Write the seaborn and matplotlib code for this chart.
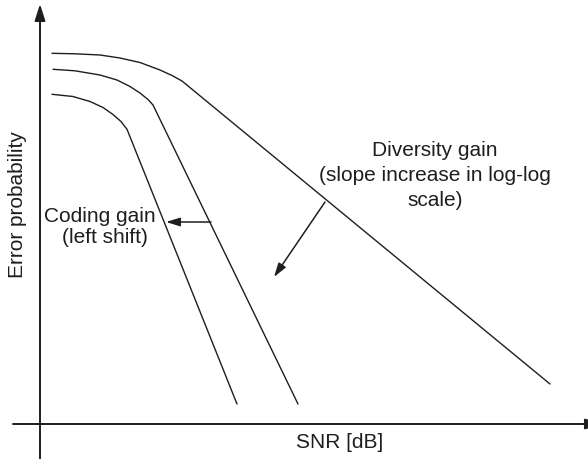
import pandas as pd
import matplotlib
matplotlib.use("Agg")
import matplotlib.pyplot as plt
import seaborn as sns

# === schematic curves (SNR units vs error-probability units) ===
snr_c1 = [1.2, 3.5, 6.0, 8.0, 10.0, 12.0, 13.2, 14.2, 51.0]
err_c1 = [37.07, 37.02, 36.9, 36.6, 36.15, 35.4, 34.85, 34.3, 4.0]

snr_c2 = [1.3, 3.5, 6.0, 7.7, 9.0, 10.0, 10.8, 11.3, 25.8]
err_c2 = [35.47, 35.32, 34.9, 34.4, 33.75, 33.1, 32.45, 31.9, 2.0]

snr_c3 = [1.2, 3.3, 5.0, 6.3, 7.3, 8.1, 8.7, 19.7]
err_c3 = [32.97, 32.75, 32.25, 31.65, 30.95, 30.25, 29.47, 2.0]

# arrows: (start, end)
coding_arrow = [(17.1, 20.2), (12.6, 20.2)]
diversity_arrow = [(28.5, 22.2), (23.4, 14.7)]

coding_lines = ["Coding gain", "(left shift)"]
diversity_lines = ["Diversity gain", "(slope increase in log-log", "scale)"]

# === build table ===
df = pd.concat([
    pd.DataFrame({"snr": snr_c1, "err": err_c1, "curve": "c1"}),
    pd.DataFrame({"snr": snr_c2, "err": err_c2, "curve": "c2"}),
    pd.DataFrame({"snr": snr_c3, "err": err_c3, "curve": "c3"}),
], ignore_index=True)

sns.set_theme(style="white")
plt.rcParams["font.family"] = ["Liberation Sans", "DejaVu Sans"]

ink = "#1e1e1e"

fig = plt.figure(figsize=(5.88, 4.59), dpi=100)
ax = fig.add_axes([0, 0, 1, 1])

sns.lineplot(data=df, x="snr", y="err", units="curve", estimator=None,
             sort=False, color=ink, linewidth=1.0, ax=ax, legend=False)

ax.set_xlim(-4.0, 54.8)
ax.set_ylim(-3.5, 42.4)
ax.axis("off")

# === axes with arrows ===
axis_arrow = dict(arrowstyle="-|>,head_length=0.5,head_width=0.16",
                  mutation_scale=20, color=ink, lw=1.4, shrinkA=0, shrinkB=0)
ax.annotate("", xy=(56.2, 0), xytext=(-2.7, 0), arrowprops=axis_arrow,
            annotation_clip=False)
ax.annotate("", xy=(0, 42.0), xytext=(0, -3.6), arrowprops=axis_arrow,
            annotation_clip=False)

# === gain arrows ===
for (x0, y0), (x1, y1) in [coding_arrow, diversity_arrow]:
    ax.annotate("", xy=(x1, y1), xytext=(x0, y0),
                arrowprops=dict(arrowstyle="-|>,head_length=0.42,head_width=0.13",
                                mutation_scale=20, color=ink, lw=1.1,
                                shrinkA=0, shrinkB=0))

# === texts ===
fs = 15
ax.text(6.0, 20.2, coding_lines[0], ha="center", va="baseline", fontsize=fs, color=ink)
ax.text(6.45, 18.1, coding_lines[1], ha="center", va="baseline", fontsize=fs, color=ink)

for txt, yb in zip(diversity_lines, [26.8, 24.3, 21.8]):
    ax.text(39.5, yb, txt, ha="center", va="baseline", fontsize=fs, color=ink)

ax.text(30.0, -2.4, "SNR [dB]", ha="center", va="baseline", fontsize=fs, color=ink)
ax.text(-2.25, 21.9, "Error probability", rotation=90, ha="center", va="center",
        fontsize=fs, color=ink)

plt.savefig("out.png", dpi=100)
